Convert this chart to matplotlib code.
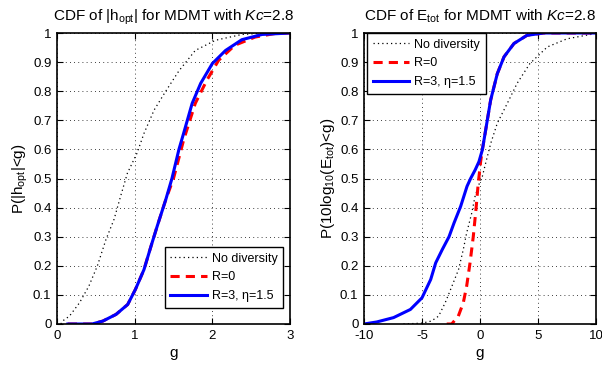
import matplotlib
matplotlib.use('Agg')
import matplotlib.pyplot as plt

plt.rcParams['font.family'] = ['Liberation Sans', 'DejaVu Sans']
plt.rcParams['mathtext.fontset'] = 'custom'
plt.rcParams['mathtext.rm'] = 'Liberation Sans'
plt.rcParams['mathtext.it'] = 'Liberation Sans:italic'

# left panel: CDF of |h_opt|
g_nodiv_h = [0.05, 0.07, 0.16, 0.29, 0.41, 0.52, 0.63, 0.735, 0.82, 0.906, 1.03, 1.12,
             1.25, 1.40, 1.57, 1.78, 2.04, 2.38, 2.7, 3.0]
p_nodiv_h = [0.0, 0.01, 0.027, 0.073, 0.13, 0.20, 0.29, 0.36, 0.44, 0.518, 0.587, 0.655,
             0.735, 0.80, 0.87, 0.94, 0.975, 0.995, 1.0, 1.0]
g_r0_h = [0.14, 0.45, 0.59, 0.76, 0.91, 1.01, 1.12, 1.21, 1.29, 1.40, 1.50, 1.63,
          1.78, 1.93, 2.08, 2.29, 2.55, 2.8, 3.0]
p_r0_h = [0.0, 0.0, 0.01, 0.033, 0.067, 0.119, 0.187, 0.267, 0.336, 0.427, 0.50, 0.632,
          0.758, 0.838, 0.906, 0.958, 0.986, 0.998, 1.0]
g_r3_h = [0.14, 0.45, 0.59, 0.76, 0.91, 1.01, 1.12, 1.21, 1.29, 1.40, 1.48, 1.57,
          1.63, 1.74, 1.85, 2.0, 2.17, 2.38, 2.64, 3.0]
p_r3_h = [0.0, 0.0, 0.01, 0.033, 0.067, 0.119, 0.187, 0.267, 0.336, 0.427, 0.50, 0.60,
          0.655, 0.758, 0.827, 0.895, 0.94, 0.977, 0.995, 1.0]

# right panel: CDF of E_tot (dB)
g_nodiv_e = [-6.6, -5.0, -4.2, -3.57, -3.0, -2.42, -1.85, -1.44, -1.15, -0.72, -0.43, 0.0,
             0.2, 0.49, 0.92, 1.49, 2.35, 3.2, 4.3, 5.8, 7.5, 9.8, 10.0]
p_nodiv_e = [0.0, 0.003, 0.01, 0.027, 0.073, 0.13, 0.187, 0.256, 0.313, 0.38, 0.438, 0.49,
             0.507, 0.553, 0.62, 0.69, 0.758, 0.827, 0.895, 0.952, 0.98, 0.997, 1.0]
g_r0_e = [-2.87, -2.44, -1.87, -1.44, -1.15, -0.86, -0.58, -0.35, -0.15, -0.02, 0.06,
          0.2, 0.49, 0.92, 1.49, 2.07, 2.93, 4.05, 5.5, 10.0]
p_r0_e = [0.0, 0.0, 0.027, 0.073, 0.13, 0.21, 0.30, 0.393, 0.484, 0.53, 0.56,
          0.598, 0.667, 0.77, 0.86, 0.918, 0.964, 0.992, 1.0, 1.0]
g_r3_e = [-10.0, -8.9, -7.45, -6.0, -5.0, -4.25, -3.82, -3.25, -2.67, -2.24, -1.67, -1.12,
          -0.81, -0.41, -0.09, 0.2, 0.49, 0.92, 1.49, 2.07, 2.93, 4.05, 5.5, 10.0]
p_r3_e = [0.0, 0.007, 0.022, 0.05, 0.09, 0.153, 0.21, 0.256, 0.30, 0.347, 0.404, 0.473,
          0.50, 0.53, 0.558, 0.598, 0.667, 0.77, 0.86, 0.918, 0.964, 0.992, 1.0, 1.0]

labels = ['No diversity', 'R=0', 'R=3, \u03b7=1.5']
yticks = [0, 0.1, 0.2, 0.3, 0.4, 0.5, 0.6, 0.7, 0.8, 0.9, 1]
ytick_labels = ['0', '0.1', '0.2', '0.3', '0.4', '0.5', '0.6', '0.7', '0.8', '0.9', '1']


def style_axes(ax):
    ax.set_ylim(0, 1)
    ax.set_yticks(yticks)
    ax.set_yticklabels(ytick_labels)
    ax.grid(True, color='black', linestyle=(0, (1, 4)), linewidth=0.6)
    ax.tick_params(direction='in', top=True, right=True, labelsize=9.5, length=4, pad=4)
    for s in ax.spines.values():
        s.set_linewidth(1.2)


def draw(ax, gn, pn, g0, p0, g3, p3):
    ax.plot(gn, pn, color='black', linestyle=(0, (1, 2.5)), linewidth=0.9, label=labels[0])
    ax.plot(g0, p0, color='red', linestyle=(0, (3, 2)), linewidth=2.2, label=labels[1])
    ax.plot(g3, p3, color='blue', linestyle='-', linewidth=2.2, label=labels[2])


def add_legend(ax, loc, anchor):
    leg = ax.legend(loc=loc, bbox_to_anchor=anchor, fontsize=9, handlelength=2.9,
                    handletextpad=0.4, fancybox=False, edgecolor='black', framealpha=1,
                    borderaxespad=0, labelspacing=0.55, borderpad=0.45)
    leg.get_frame().set_linewidth(1.0)


fig = plt.figure(figsize=(6.02, 3.65), dpi=100)
ax1 = fig.add_axes([57 / 602, 41 / 365, 233 / 602, 291 / 365])
ax2 = fig.add_axes([364 / 602, 41 / 365, 232 / 602, 291 / 365])

draw(ax1, g_nodiv_h, p_nodiv_h, g_r0_h, p_r0_h, g_r3_h, p_r3_h)
ax1.set_xlim(0, 3)
ax1.set_xticks([0, 1, 2, 3])
style_axes(ax1)
ax1.set_xlabel('g', fontsize=11, labelpad=3)
ax1.set_ylabel('P(|h$_{\\mathrm{opt}}$|<g)', fontsize=11, labelpad=2)
ax1.set_title('CDF of |h$_{\\mathrm{opt}}$| for MDMT with $Kc$=2.8', fontsize=11, pad=9)
add_legend(ax1, 'lower right', (0.970, 0.055))

draw(ax2, g_nodiv_e, p_nodiv_e, g_r0_e, p_r0_e, g_r3_e, p_r3_e)
ax2.set_xlim(-10, 10)
ax2.set_xticks([-10, -5, 0, 5, 10])
ax2.set_xticklabels(['-10', '-5', '0', '5', '10'])
style_axes(ax2)
ax2.set_xlabel('g', fontsize=11, labelpad=3)
ax2.set_ylabel('P(10log$_{\\mathrm{10}}$(E$_{\\mathrm{tot}}$)<g)', fontsize=11, labelpad=2)
ax2.set_title('CDF of E$_{\\mathrm{tot}}$ for MDMT with $Kc$=2.8', fontsize=11, pad=9)
add_legend(ax2, 'upper left', (0.015, 1.0))

fig.savefig('out.png', dpi=100)
